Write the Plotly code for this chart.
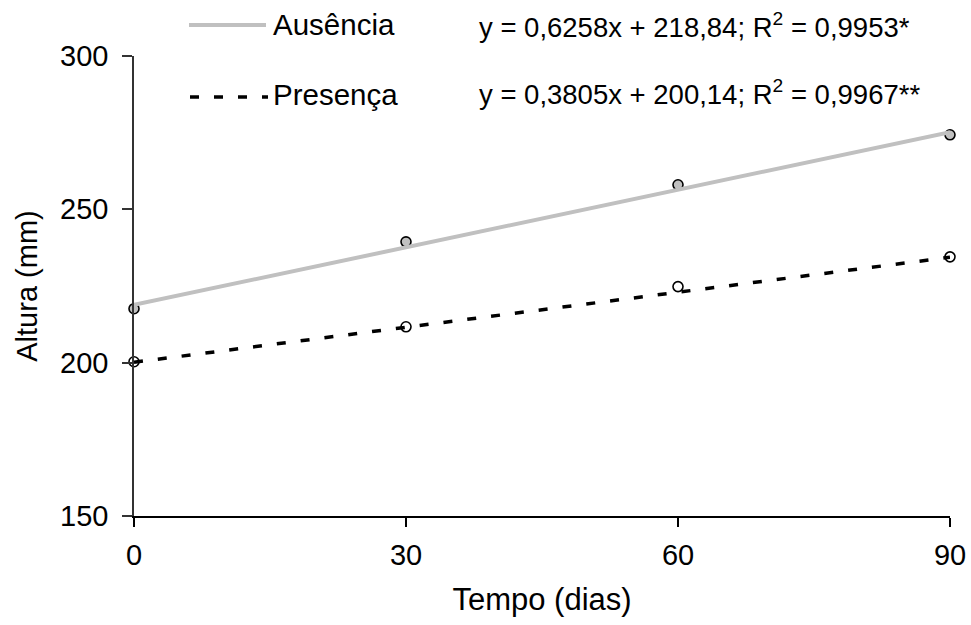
import plotly.graph_objects as go

# Data
dias = [0, 30, 60, 90]
ausencia = [217.6, 239.4, 258.0, 274.3]
presenca = [200.3, 211.7, 224.8, 234.5]

# Regression coefficients printed on the chart
aus_a, aus_b = 0.6258, 218.84
pre_a, pre_b = 0.3805, 200.14
aus_eq = "y = 0,6258x + 218,84; R<sup>2</sup> = 0,9953*"
pre_eq = "y = 0,3805x + 200,14; R<sup>2</sup> = 0,9967**"

x_ticks = [0, 30, 60, 90]
y_ticks = [150, 200, 250, 300]

FONT = "Liberation Sans, Arial, sans-serif"

# plot-area geometry in page pixels
PL, PR, PT, PB = 134, 950, 56, 516.5
PW, PH = PR - PL, PB - PT


def px(x):
    return (x - PL) / PW


def py(y):
    return (PB - y) / PH


fit_x = [dias[0], dias[-1]]
aus_fit = [aus_a * v + aus_b for v in fit_x]
pre_fit = [pre_a * v + pre_b for v in fit_x]

fig = go.Figure()

fig.add_trace(go.Scatter(
    x=dias, y=ausencia, mode="markers", showlegend=False, cliponaxis=False,
    marker=dict(size=10, color="#c0c0c0", line=dict(color="black", width=1.6)),
))
fig.add_trace(go.Scatter(
    x=dias, y=presenca, mode="markers", showlegend=False, cliponaxis=False,
    marker=dict(size=10, color="white", line=dict(color="black", width=1.6)),
))
fig.add_trace(go.Scatter(
    x=fit_x, y=aus_fit, mode="lines", showlegend=False, cliponaxis=False,
    line=dict(color="#c0c0c0", width=4),
))
fig.add_trace(go.Scatter(
    x=fit_x, y=pre_fit, mode="lines", showlegend=False, cliponaxis=False,
    line=dict(color="black", width=3.5, dash="9px,15px"),
))

# Manual legend (line samples + labels)
fig.add_shape(type="line", xref="paper", yref="paper",
              x0=px(189), x1=px(266), y0=py(25), y1=py(25),
              line=dict(color="#c0c0c0", width=4))
fig.add_shape(type="line", xref="paper", yref="paper",
              x0=px(190), x1=px(268), y0=py(97), y1=py(97),
              line=dict(color="black", width=3.5, dash="9px,15px"))
fig.add_annotation(text="Ausência", xref="paper", yref="paper",
                   x=px(271), y=py(24), xanchor="left", yanchor="middle",
                   showarrow=False, font=dict(family=FONT, size=29.5, color="black"))
fig.add_annotation(text="Presença", xref="paper", yref="paper",
                   x=px(271), y=py(95), xanchor="left", yanchor="middle",
                   showarrow=False, font=dict(family=FONT, size=29.5, color="black"))
fig.add_annotation(text=aus_eq, xref="paper", yref="paper",
                   x=px(477), y=py(25), xanchor="left", yanchor="middle",
                   showarrow=False, font=dict(family=FONT, size=27.5, color="black"))
fig.add_annotation(text=pre_eq, xref="paper", yref="paper",
                   x=px(477), y=py(93), xanchor="left", yanchor="middle",
                   showarrow=False, font=dict(family=FONT, size=27.5, color="black"))

fig.update_layout(
    width=971, height=625,
    margin=dict(l=PL, r=971 - PR, t=PT, b=625 - PB),
    paper_bgcolor="white", plot_bgcolor="white",
    font=dict(family=FONT, size=29, color="black"),
    xaxis=dict(
        range=[0, 90], tickvals=x_ticks, ticktext=[str(v) for v in x_ticks],
        showgrid=False, zeroline=False, showline=True, linecolor="black", linewidth=2,
        ticks="outside", ticklen=9, tickwidth=2, tickcolor="black",
        ticklabelstandoff=3, automargin=False,
        title=dict(text="Tempo (dias)", standoff=19, font=dict(size=31)),
        tickfont=dict(size=29),
    ),
    yaxis=dict(
        range=[150, 300], tickvals=y_ticks, ticktext=[str(v) for v in y_ticks],
        showgrid=False, zeroline=False, showline=True, linecolor="#333333", linewidth=1.5,
        ticks="outside", ticklen=10, tickwidth=1.5, tickcolor="#333333",
        ticklabelstandoff=8, automargin=False,
        title=dict(text="Altura (mm)", standoff=14, font=dict(size=29)),
        tickfont=dict(size=29),
    ),
)

fig.write_html(
    "out.html",
    config={"displayModeBar": False},
    post_script="document.body.style.margin='0';document.body.style.overflow='hidden';",
)
